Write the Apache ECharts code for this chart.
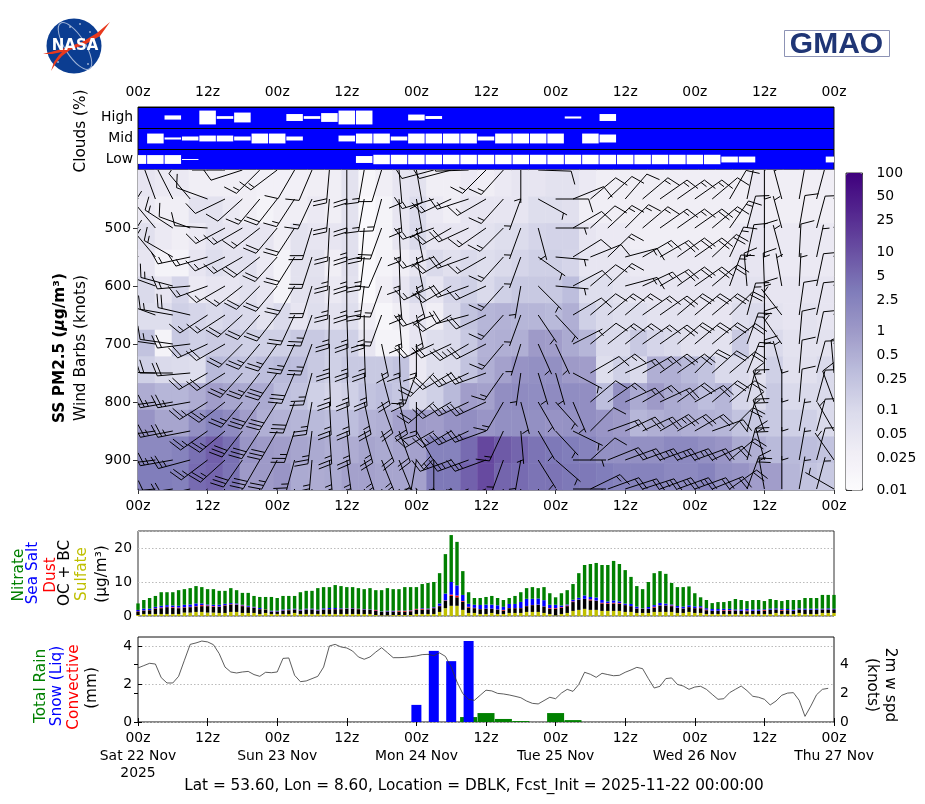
<!DOCTYPE html>
<html>
<head>
<meta charset="utf-8"/>
<title>SS PM2.5 forecast DBLK</title>
<script src="https://cdn.jsdelivr.net/npm/echarts@6/dist/echarts.min.js"></script>
<style>html,body{margin:0;padding:0;background:#fff}</style>
</head>
<body>
<div id="main" style="width:925px;height:804px;"></div>
<script type="text/javascript">
// clear-sky fraction of each cloud row, every 3 h (0 = all blue)
var cloudHigh = [0,0,.2,0,.66,.13,.47,0,0,.33,.13,.42,.66,.66,0,0,.28,.14,0,0,0,0,0,0,0,.1,0,.33,0,0,0,0,0,0,0,0,0,0,0,0,0];
var cloudMid  = [0,.47,.1,.19,.28,.28,.19,.47,.47,.19,0,0,.28,.47,.47,.19,.47,.47,.47,.47,.19,.47,.47,.47,.47,0,.47,.38,0,0,0,0,0,0,0,0,0,0,0,0,0];
var cloudLow  = [.42,.42,.42,.05,0,0,0,0,0,0,0,0,0,.33,.45,.45,.45,.45,.45,.45,.45,.45,.45,.45,.45,.45,.45,.45,.45,.45,.45,.45,.45,.45,.28,.28,0,0,0,0,.28];
var cloudRows = ['Low','Mid','High'];

// SS PM2.5 (ug/m3), 12 rows top to bottom, 41 columns
var pm25 = [
 [.05,.04,.04,.03,.03,.03,.03,.025,.025,.025,.03,.03,.06,.015,.03,.05,.06,.03,.03,.04,.03,.04,.05,.05,.06,.06,.04,.03,.03,.03,.03,.03,.03,.03,.03,.03,.04,.03,.03,.03,.03],
 [.04,.03,.03,.06,.06,.04,.03,.02,.03,.03,.04,.03,.06,.012,.02,.05,.09,.04,.03,.05,.05,.05,.05,.08,.08,.07,.03,.03,.03,.03,.03,.03,.03,.03,.03,.03,.04,.03,.03,.03,.03],
 [.07,.04,.03,.04,.06,.05,.05,.05,.03,.06,.05,.05,.07,.012,.02,.05,.1,.05,.05,.05,.06,.08,.09,.12,.13,.13,.05,.04,.04,.03,.03,.03,.03,.03,.03,.04,.05,.04,.04,.04,.04],
 [.05,.02,.02,.05,.08,.06,.07,.04,.02,.06,.06,.03,.07,.012,.02,.03,.05,.1,.07,.1,.08,.1,.12,.15,.15,.12,.05,.05,.05,.04,.04,.04,.04,.04,.04,.05,.05,.04,.04,.04,.04],
 [.1,.05,.12,.04,.05,.05,.07,.05,.02,.06,.07,.04,.06,.012,.03,.05,.1,.05,.12,.15,.1,.15,.2,.2,.2,.3,.08,.08,.06,.05,.05,.05,.05,.05,.05,.06,.06,.05,.05,.05,.05],
 [.08,.08,.15,.12,.1,.12,.1,.06,.1,.05,.08,.06,.08,.03,.015,.03,.05,.03,.1,.25,.4,.45,.4,.4,.35,.5,.15,.1,.08,.08,.06,.06,.06,.05,.05,.08,.1,.06,.05,.06,.05],
 [.25,.02,.2,.15,.18,.18,.15,.15,.15,.2,.2,.15,.15,.05,.02,.02,.05,.08,.1,.2,.45,.5,.5,1,.9,.6,.4,.1,.1,.2,.12,.1,.07,.07,.06,.2,.07,.1,.06,.06,.06],
 [.15,.1,.09,.08,.35,.3,.25,.3,.35,.3,.2,.15,.2,.2,.2,.25,.04,.08,.1,.25,.5,.8,1.3,1.5,1.5,1,.9,.08,.15,.1,.5,.5,.35,.25,.1,.1,.07,.15,.07,.07,.1],
 [.55,.4,.4,.55,.9,.7,.6,.6,.3,.25,.15,.12,.15,.25,.3,.22,.1,.15,.35,.9,.8,1.6,1.8,1.7,1.8,1.7,1.6,.3,1.5,.6,1,.6,.5,.3,.4,.12,.1,.2,.1,.1,.1],
 [1.3,.7,.7,1.5,2.5,1.8,.9,.5,.45,.4,.35,.3,.3,.45,.5,.8,1,.9,1.3,1.6,1.2,1.5,1.5,1.5,1.3,1.4,1.6,1.2,1,.4,.5,.6,.5,.45,.4,.25,.2,.2,.15,.15,.1],
 [2,2,2.5,4.5,7,4.5,1.2,1,.9,.7,.6,.5,.55,.7,.6,.7,.8,2.5,2.5,5,13,8,6,4,3.5,3,2.5,1.5,1.5,1.5,1.5,2,2,1.5,1.2,.6,.5,.35,.35,.3,.25],
 [3,3,2.7,5,6,4,1,1,1.2,.6,.55,.6,.8,.8,.7,.7,.8,3.5,3.5,6.5,12,6,5,4,4,3.5,3.5,3,2.5,2.5,2.5,2,2,2.5,1.5,1.3,.9,.9,.4,.25,.2]
];
var pm25Ticks = [100,50,25,10,5,2.5,1,.5,.25,.1,.05,.025,.01];
var pm25Minor = [90,80,70,60,40,30,20,9,8,7,6,4,3,2,.9,.8,.7,.6,.4,.3,.2,.09,.08,.07,.06,.04,.03,.02];

// wind barbs: pressure levels, direction (deg) and speed (knots) every 3 h
var levels = [400,450,500,550,600,650,700,750,800,850,900,950];
var windDir = [
 [340,340,330,320,300,270,252,225,233,210,203,185,180,190,197,175,170,255,255,268,225,222,180,92,60,50,45,45,45,45,45,45,40,35,30,20,0,0,10,15,15],
 [340,340,333,320,290,244,228,220,218,213,205,185,180,190,195,175,170,253,245,252,240,222,200,119,90,68,50,47,41,50,55,55,55,50,30,12,0,345,10,15,15],
 [340,320,303,290,274,242,240,232,220,213,197,183,180,185,200,177,168,250,240,245,235,225,200,165,90,60,48,47,45,50,55,55,55,50,35,15,0,345,10,15,15],
 [340,320,300,258,254,245,240,232,222,212,198,183,180,187,203,178,168,250,240,250,240,222,200,125,95,58,68,46,75,60,60,55,55,47,25,12,0,345,3,12,14],
 [300,290,285,265,250,240,232,225,220,210,197,183,180,187,200,175,165,245,240,250,245,222,190,135,95,62,50,47,75,65,60,55,55,50,20,355,358,350,3,12,14],
 [300,290,280,283,237,237,228,222,218,205,200,181,178,180,200,175,168,250,240,255,245,222,200,146,137,59,50,50,50,55,55,50,50,50,45,15,0,322,8,12,15],
 [275,278,278,263,245,240,225,220,215,205,200,180,178,178,168,178,180,245,245,240,243,220,197,156,155,63,51,52,52,55,55,50,50,50,52,20,0,325,5,12,15],
 [275,272,270,265,240,238,222,218,215,203,195,178,176,175,165,172,200,225,240,245,250,215,188,163,164,118,60,55,65,60,55,55,45,48,50,22,0,345,5,15,355],
 [262,262,260,260,238,232,220,215,212,200,190,177,175,168,160,165,180,230,240,245,245,210,165,150,138,157,50,55,65,60,65,55,60,50,50,15,340,0,5,15,340],
 [262,262,259,259,235,230,218,213,210,198,187,176,174,165,158,160,150,240,240,245,250,205,175,150,137,116,45,70,65,65,60,60,60,70,45,15,340,0,10,15,330],
 [265,263,260,255,233,228,215,210,208,195,185,175,172,162,158,158,190,180,250,250,250,200,190,148,131,90,48,68,70,70,70,70,70,65,50,15,345,0,10,15,325],
 [270,265,262,258,232,225,215,210,205,195,185,173,170,160,155,155,180,180,250,250,250,200,190,150,130,90,64,70,72,72,70,70,70,68,55,20,350,0,10,15,300]
];
var windSpd = [
 [10,10,10,10,10,10,10,15,15,10,10,20,20,15,10,10,10,10,10,10,15,15,5,10,5,5,10,10,10,10,10,10,10,10,10,10,5,5,10,10,10],
 [10,10,10,10,10,10,10,15,20,15,15,20,20,15,15,15,15,15,15,15,15,15,5,5,10,10,10,10,10,15,15,15,15,10,10,10,5,5,10,10,10],
 [10,10,15,10,10,15,15,15,20,20,20,20,25,20,20,15,15,15,20,20,15,15,5,5,5,10,10,15,15,15,15,15,20,15,15,10,5,5,10,10,10],
 [15,15,15,15,15,15,15,20,20,20,20,25,25,25,10,15,15,15,20,20,15,15,5,5,5,10,10,15,15,15,20,20,20,20,15,10,10,5,10,5,10],
 [15,15,15,15,15,15,15,20,20,20,20,25,25,25,15,15,15,15,20,20,15,15,5,5,5,10,10,15,15,15,20,20,20,20,15,15,15,5,5,10,10],
 [15,15,15,20,15,15,20,20,20,20,25,25,25,25,15,15,15,20,20,20,20,15,5,5,5,10,10,15,15,15,20,20,20,20,20,15,15,5,10,10,10],
 [15,15,15,20,20,20,20,25,25,25,25,25,25,25,15,15,15,20,20,25,20,15,5,5,5,5,10,15,15,15,20,20,20,20,20,15,15,5,10,10,10],
 [20,20,20,20,20,20,25,25,30,30,25,25,25,25,20,15,15,20,20,25,25,15,5,5,5,5,10,15,15,15,20,20,20,20,20,15,15,5,10,10,10],
 [20,20,25,25,25,25,25,30,30,30,25,25,25,25,20,20,15,20,20,25,25,15,5,5,5,5,10,15,15,15,20,20,20,20,20,15,15,5,10,10,10],
 [25,25,25,25,25,25,30,30,30,25,25,25,25,25,20,20,20,20,25,25,25,15,5,5,5,5,10,15,20,20,25,20,20,20,20,20,15,5,5,10,5],
 [25,25,25,25,25,25,30,30,25,25,25,25,25,25,25,20,15,5,25,25,25,15,5,5,5,5,10,20,20,25,25,25,20,20,20,20,15,5,5,10,5],
 [20,20,20,20,20,20,25,25,25,20,20,20,20,20,20,20,15,5,20,20,20,15,5,5,5,5,15,20,20,25,25,25,20,20,20,20,15,5,5,5,5]
];

// aerosol stack (ug/m3), hourly
var sulfate = [.3,.6,.6,.6,.6,.6,.6,.6,1,1, 1.2,1.2,1,1,.9,.9,1.2,1.2,.9,.9, .9,.6,.9,.6,.6,.6,.6,.9,.6,.6, .6,.6,.6,.6,.6,.6,.6,.6,.6,.6, .6,.3,.2,.2,.3,.3,.3,.3,.6,.6, .6,.6,1.2,2.3,3,3,1.8,.9,.9,.6, .6,.9,.6,.6,.9,.9,.9,1.2,1.2,1.2, .9,.6,.2,.6,.9,1.5,1.8,2.1,1.8,1.8, 1.5,1.5,1.5,1.5,1.2,1.2,.9,.9,.9,1.2, 1.2,1.2,1.2,.9,.9,1.2,.9,.9,.6,.6, .6,.6,.6,.6,.6,.6,.6,.6,.6,.6, .9,.6,.6,.6,.9,.6,.6,.6,.9,.9,.9];
var ocBc = [1,1,1.1,1.6,1.7,2,1.8,1.7,1.5,1.6, 1.6,1.7,1.9,1.7,1.8,2.2,2.2,2.1,2,1.7, 1.5,1.4,1,.7,.7,1,1.1,1,1,1.3, 1.3,1,1.3,1.4,1.4,1.4,1.5,1.6,1.4,1.3, 1.2,1.2,1,1.1,1,1,1,1.1,1.2,1.3, 1.3,1.7,1.7,2.2,2.9,2.5,2.4,1.6,1.4,1.4, 1.5,1.2,1.3,1,1.4,1.4,1.4,1.7,2,2.1, 1.9,1.5,1.9,1.8,2,2.6,3,2.9,2.8,2.7, 2.2,2.1,2.2,2.1,2,1.7,1.3,1.2,1.2,1.3, 1.9,1.9,1.7,1.5,1.3,1.4,1.4,1.4,1.1,.9, .9,.9,.9,1,.9,.8,.9,.9,1,1.2, 1,1,1.1,.9,1,1.2,1.2,1.2,1,1,1];
var dust = [.1,.05,.05,.1,.2,.1,.2,.2,.1,.1, .1,.3,.2,.2,.1,.1,.1,.1,.2,.1, .1,.05,.05,.05,.05,.05,.05,.05,.05,.05, .05,.05,.05,.05,.05,.05,.05,.05,.05,.05, .05,.2,.05,.05,.05,.2,.2,.2,.2,.2, .1,.1,.1,.1,.4,.5,.2,.2,.1,.05, .05,.05,.05,.2,.05,.05,.05,.05,.05,.05, .05,.2,.2,.2,.2,.2,.05,.05,.3,.05, .2,.2,.2,.2,.05,.05,.05,.05,.05,.2, .05,.05,.2,.05,.05,.05,.05,.2,.2,.05, .05,.2,.2,.05,.05,.2,.05,.05,.2,.05, .05,.2,.05,.05,.05,.05,.05,.05,.05,.05,.05];
var seaSalt = [.4,.5,.4,.4,.5,.5,.5,.5,.7,.7, .8,.5,.3,.4,.5,.4,.3,.3,.2,.3, .2,.3,0,.2,.2,.25,.2,.2,.2,.2, .2,.2,.3,.3,.3,.2,.1,.1,.1,.1, .1,.1,.1,.2,.2,.1,.1,.1,.1,.2, .2,.2,.7,2,3.7,3,1.8,.9,.9,1.2, 1.2,1.2,1.2,.9,1.2,1.2,1.8,2.1,1.8,1.8, 1.8,1,1,.5,.3,.5,.5,1,.7,.9, .8,.5,.7,.5,.4,.6,.5,.1,.5,.5, .7,.5,.3,.5,.5,.5,.5,.4,.4,.5, .5,.4,.4,.3,.4,.5,.4,.4,.2,.3, .3,.3,.3,.3,.3,.3,.3,.3,.2,.3,.2];
var nitrate = [1.9,2.55,3.15,3.2,4,3.8,3.9,4.6,4.6,4.8, 5.1,4.8,4.5,4.6,4.1,3.8,4.4,3.9,3.5,3.8, 3.2,3.25,3.65,4.05,3.75,4,3.95,3.75,5.15,5.25, 5.25,6.35,6.25,6.15,6.75,6.55,6.25,6.15,6.05,5.85, 6.25,5.8,6.25,6.65,6.35,6.3,6.9,6.8,6.4,7.1, 7.5,7.4,8.9,11.6,13.8,12.8,7,3.4,2,2.05, 2.25,2.55,2.15,2,1.75,2.35,2.85,3.15,3.45,3.05, 3.85,3.4,2.2,3.6,4.2,4.6,7.25,8.95,9.7,10.15, 10.3,10.7,11.6,11,9.85,7.95,6.05,5.65,7.35,9.4, 9.35,8.75,6.3,5.55,5.75,5.55,3.85,2.6,2.4,1.75, 2.05,2,2.3,3.05,2.75,2.3,2.75,2.75,2.4,2.85, 2.45,2.3,2.65,2.85,2.45,3.15,3.15,3.15,4.05,3.95,4.05];

// precipitation (mm), every 3 h
var totalRain = [0,0,0,0,0,0,0,0,0,0,0,0,0,0,0,0,0,0,0,.26,.47,.16,.05,0,.47,.1,0,0,0,0,0,0,0,0,0,0,0,0,0,0,0];
var snowLiq   = [0,0,0,0,0,0,0,0,0,0,0,0,0,0,0,0,.9,3.74,3.2,4.26,0,0,0,0,0,0,0,0,0,0,0,0,0,0,0,0,0,0,0,0,0];
// 2 m wind speed (knots), hourly up to 119 h
var wind2m = [3.74,3.9,4.06,4.01,3.07,2.7,2.7,3.16,4.27,5.37,5.47,5.6,5.54,5.35,4.73,3.8,3.46,3.39,3.46,3.5,3.28,3.16,3.44,3.41,3.46,4.4,4.43,3.23,2.79,2.84,3,3.16,3.8,5.26,5.37,5.19,5.12,4.91,4.5,4.34,4.5,4.84,5.14,4.8,4.45,4.45,4.47,4.52,4.57,4.66,4.68,4.59,4.78,4.54,3.8,2.77,1.96,1.57,1.5,1.85,2.2,2.15,1.98,1.94,1.87,1.78,1.68,1.45,1.29,1.25,1.48,1.71,1.61,2,2.26,2.12,2.6,3.44,3.3,3.09,3.37,3.28,3.2,3.23,3.44,3.6,3.78,3.69,3,2.35,2.47,3,3.05,2.6,2.49,2.26,2.42,2.47,2.26,1.91,1.57,1.61,2.03,2.26,2.49,2.17,1.78,1.71,1.57,1.18,1.45,1.85,2,2.03,1.5,.39,1.1,1.89,2.26,2.33];

var dayLabels = {0:'Sat 22 Nov\n2025',24:'Sun 23 Nov',48:'Mon 24 Nov',72:'Tue 25 Nov',96:'Wed 26 Nov',120:'Thu 27 Nov'};
var titleText = 'Lat = 53.60, Lon = 8.60, Location = DBLK, Fcst_Init = 2025-11-22 00:00:00';

var FONT = 'DejaVu Sans';
var TICK = 13.9;
var HOURS_PER_COL = 3;
var BARB_LEN = 33;
var LABEL_NUDGE = [2,0,0,0];

function hourLabel(v){ return v % 24 === 0 ? '00z' : '12z'; }
function every3h(list){ return list.map(function(v,i){ return [i*HOURS_PER_COL, v]; }); }
function hourly(list){ return list.map(function(v,i){ return [i, v]; }); }

var hourCats = nitrate.map(function(v,i){ return i; });
var heatData = [];
pm25.forEach(function(row,r){
    row.forEach(function(v,c){ heatData.push([c, r, Math.log10(v)]); });
});
var barbData = [];
levels.forEach(function(p,r){
    windDir[r].forEach(function(d,c){ barbData.push([c*HOURS_PER_COL, p, d, windSpd[r][c]]); });
});
var cloudData = [];
[cloudLow,cloudMid,cloudHigh].forEach(function(list,r){
    list.forEach(function(v,c){ if(v>0) cloudData.push([c*HOURS_PER_COL, r, v]); });
});

function renderCloud(params, api){
    var p = api.coord([api.value(0), api.value(1)]);
    var band = api.size([0,1])[1];
    var w = api.size([2.85,0])[0];
    var h = band * api.value(2);
    return {type:'rect', shape:{x:p[0]-w/2, y:p[1]-h/2, width:w, height:h}, style:{fill:'#fff'}};
}

function renderBarb(params, api){
    var base = api.coord([api.value(0), api.value(1)]);
    var a = api.value(2) * Math.PI / 180;
    var spd = Math.round(api.value(3)/5)*5;
    // unit vector along the staff and to its right, screen coordinates
    var ux = Math.sin(a), uy = -Math.cos(a);
    var rx = -uy, ry = ux;
    var L = BARB_LEN, gap = L*0.125;
    var tip = [base[0]+ux*L, base[1]+uy*L];
    var lines = [[base,tip]];
    var full = Math.floor(spd/10), half = (spd%10)>=5 ? 1 : 0;
    var off = 0;
    if(full === 0 && half) off = gap;
    function feather(o, scale){
        var sx = tip[0]-ux*o, sy = tip[1]-uy*o;
        var hgt = 0.4*L*scale, fw = 0.125*L*scale;
        lines.push([[sx,sy],[sx+rx*hgt+ux*fw, sy+ry*hgt+uy*fw]]);
    }
    for(var i=0;i<full;i++){ feather(off,1); off += gap; }
    if(half) feather(off,0.5);
    return {
        type:'group',
        children: lines.map(function(l){
            return {type:'line', shape:{x1:l[0][0],y1:l[0][1],x2:l[1][0],y2:l[1][1]},
                style:{stroke:'#000',lineWidth:1}};
        })
    };
}

function vtext(text,x,y,color,rot){
    return {type:'text', x:x, y:y, rotation:rot===undefined?Math.PI/2:rot, z:20,
        style:{text:text, fill:color, align:'center', verticalAlign:'middle',
            font:'15.3px "'+FONT+'"'}};
}

var graphics = [
    vtext('Clouds (%)',81,131,'#000'),
    {type:'text', x:60, y:348, rotation:Math.PI/2, z:20, style:{
        text:'{b|SS PM2.5 (}{i|μ}{b|g/m³)}', align:'center', verticalAlign:'middle', fill:'#000',
        rich:{b:{font:'bold 15.3px "'+FONT+'"',fill:'#000'}, i:{font:'bold italic 15.3px "'+FONT+'"',fill:'#000'}}
    }},
    vtext('Wind Barbs (knots)',81,348,'#000'),
    vtext('Nitrate',19,575,'#008000'),
    vtext('Sea Salt',33,573,'#0000ff'),
    vtext('Dust',51,575,'#ff0000'),
    vtext('OC + BC',65,573,'#000'),
    vtext('Sulfate',82,574,'#bfbf00'),
    vtext('(μg/m³)',102,574,'#000'),
    vtext('Total Rain',41,686,'#008000'),
    vtext('Snow (Liq)',57,686,'#0000ff'),
    vtext('Convective',74,687,'#ff0000'),
    vtext('(mm)',92,688,'#000'),
    vtext('2m w spd',890,685,'#000',-Math.PI/2),
    vtext('(knots)',872,685,'#000',-Math.PI/2),
    {type:'text', x:474, y:786, z:20, style:{text:titleText, fill:'#000', align:'center', verticalAlign:'middle', font:'15.3px "'+FONT+'"'}},
    // GMAO logo
    {type:'rect', shape:{x:784.5,y:30.5,width:105,height:26}, style:{fill:'#fff',stroke:'#8d93b5',lineWidth:1}},
    {type:'text', x:836.5, y:44.5, z:5, style:{text:'GMAO', fill:'#1f3575', align:'center', verticalAlign:'middle', font:'bold 30px "Liberation Sans"'}},
    // NASA logo
    {type:'circle', shape:{cx:74,cy:46,r:27.5}, style:{fill:'#0b3d91'}},
    {type:'ellipse', shape:{cx:75,cy:46,rx:27,ry:10}, rotation:-Math.PI*0.32, originX:75, originY:46, style:{fill:'none',stroke:'#9fb3d6',lineWidth:1}},
    {type:'circle', shape:{cx:70,cy:27,r:.8}, style:{fill:'#fff'}},
    {type:'circle', shape:{cx:80,cy:24,r:.8}, style:{fill:'#fff'}},
    {type:'circle', shape:{cx:90,cy:32,r:.8}, style:{fill:'#fff'}},
    {type:'circle', shape:{cx:58,cy:62,r:.8}, style:{fill:'#fff'}},
    {type:'circle', shape:{cx:88,cy:64,r:.8}, style:{fill:'#fff'}},
    {type:'polygon', z:6, shape:{points:[[43,54],[62,49],[82,42],[97,33],[110,22],[100,36],[86,44],[70,50],[62,56],[56,63],[51,71],[54,62],[59,55],[62,52],[52,54]]}, style:{fill:'#e8391d'}},
    {type:'text', x:75, y:46, z:7, style:{text:'NASA', fill:'#fff', align:'center', verticalAlign:'middle', font:'bold 15px "DejaVu Sans"'}}
];

var option = {
    animation:false,
    backgroundColor:'#fff',
    textStyle:{fontFamily:FONT,color:'#000'},
    graphic:graphics,
    visualMap:{
        type:'continuous', min:-2, max:2, dimension:2, seriesIndex:1,
        left:846, top:173, itemWidth:16.5, itemHeight:317, padding:0,
        text:null, calculable:false, hoverLink:false, silent:true,
        inRange:{color:['#fcfbfd','#efedf5','#dadaeb','#bcbddc','#9e9ac8','#807dba','#6a51a3','#54278f','#3f007d']}
    },
    grid:[
        {left:138,top:107,width:696,height:63,show:true,backgroundColor:'#0000ff',borderColor:'#111',borderWidth:1},
        {left:138,top:170,width:696,height:320,show:true,backgroundColor:'transparent',borderColor:'#333',borderWidth:1},
        {left:846,top:173,width:16.5,height:317,show:true,backgroundColor:'transparent',borderColor:'#333',borderWidth:1},
        {left:138,top:531,width:696,height:85,show:true,borderColor:'#333',borderWidth:1},
        {left:138,top:637,width:696,height:85,show:true,borderColor:'#111',borderWidth:1},
        {left:846,top:173,width:16.5,height:317,show:false}
    ],
    xAxis:[
        {gridIndex:0,type:'value',min:0,max:120,interval:12,position:'top',splitLine:{show:false},axisLine:{show:false},axisTick:{show:false},
            axisLabel:{margin:8,fontSize:TICK,color:'#000',formatter:hourLabel,showMinLabel:true,showMaxLabel:true}},
        {gridIndex:1,type:'value',min:0,max:120,interval:12,splitLine:{show:false},axisLine:{show:false},axisTick:{length:4,lineStyle:{color:'#333'}},
            axisLabel:{margin:9,fontSize:TICK,color:'#000',formatter:hourLabel,showMinLabel:true,showMaxLabel:true}},
        {gridIndex:1,type:'category',show:false,data:pm25[0].map(function(v,i){return i;})},
        {gridIndex:2,type:'value',show:false,min:0,max:1},
        {gridIndex:3,type:'category',data:hourCats,boundaryGap:false,axisLabel:{show:false},axisTick:{show:false},axisLine:{show:false},splitLine:{show:false}},
        {gridIndex:4,type:'value',min:0,max:120,interval:12,splitLine:{show:false},axisLine:{show:false},
            axisTick:{inside:true,length:4,lineStyle:{color:'#000'}},
            axisLabel:{margin:8,fontSize:TICK,lineHeight:17.5,color:'#000',showMinLabel:true,showMaxLabel:true,
                formatter:function(v){ return dayLabels[v]!==undefined ? hourLabel(v)+'\n'+dayLabels[v] : hourLabel(v); }}},
        {gridIndex:4,type:'value',min:0,max:120,interval:12,position:'top',splitLine:{show:false},axisLine:{show:false},
            axisTick:{inside:true,length:4,lineStyle:{color:'#000'}},axisLabel:{show:false}},
        {gridIndex:5,type:'value',show:false,min:0,max:1}
    ],
    yAxis:[
        {gridIndex:0,type:'category',data:cloudRows,axisLine:{show:false},axisTick:{show:false},
            splitLine:{show:true,lineStyle:{color:'#000',width:1}},
            axisLabel:{margin:5,fontSize:TICK,color:'#000',padding:LABEL_NUDGE}},
        {gridIndex:1,type:'value',inverse:true,min:400,max:951.7,interval:100,splitLine:{show:false},axisLine:{show:false},
            axisTick:{length:5,customValues:[500,600,700,800,900],lineStyle:{color:'#333'}},
            axisLabel:{margin:7,fontSize:TICK,color:'#000',padding:LABEL_NUDGE,customValues:[500,600,700,800,900]}},
        {gridIndex:1,type:'category',show:false,inverse:true,data:levels},
        {gridIndex:2,type:'value',min:-2,max:2,position:'right',splitLine:{show:false},axisLine:{show:false},
            axisTick:{length:6,customValues:pm25Ticks.map(Math.log10),lineStyle:{color:'#333'}},
            axisLabel:{margin:14,fontSize:TICK,color:'#000',padding:LABEL_NUDGE,customValues:pm25Ticks.map(Math.log10),
                formatter:function(v){ return String(pm25Ticks.reduce(function(a,b){ return Math.abs(Math.log10(b)-v)<Math.abs(Math.log10(a)-v)?b:a; })); }}},
        {gridIndex:5,type:'value',min:-2,max:2,position:'right',splitLine:{show:false},axisLine:{show:false},
            axisTick:{length:3,customValues:pm25Minor.map(Math.log10),lineStyle:{color:'#333'}},axisLabel:{show:false}},
        {gridIndex:3,type:'value',min:0,max:25,interval:10,axisLine:{show:false},axisTick:{show:false},
            splitLine:{show:true,lineStyle:{color:'#bbb',type:[1.5,2],width:1}},
            axisLabel:{margin:6,fontSize:TICK,color:'#000',padding:LABEL_NUDGE,customValues:[0,10,20]}},
        {gridIndex:4,type:'value',min:0,max:4.47,interval:2,axisLine:{show:false},
            axisTick:{inside:true,length:4,customValues:[0,2,4],lineStyle:{color:'#000'}},
            splitLine:{show:true,lineStyle:{color:'#bbb',type:[1.5,2],width:1}},
            axisLabel:{margin:6,fontSize:TICK,color:'#000',padding:LABEL_NUDGE,customValues:[0,2,4]}},
        {gridIndex:4,type:'value',min:0,max:5.88,interval:2,position:'right',axisLine:{show:false},splitLine:{show:false},
            axisTick:{inside:true,length:4,customValues:[0,2,4],lineStyle:{color:'#000'}},
            axisLabel:{margin:6,fontSize:TICK,color:'#000',padding:LABEL_NUDGE,customValues:[0,2,4]}}
    ],
    series:[
        {type:'custom',xAxisIndex:0,yAxisIndex:0,data:cloudData,encode:{x:0,y:1},renderItem:renderCloud,clip:true,silent:true},
        {type:'heatmap',xAxisIndex:2,yAxisIndex:2,data:heatData,silent:true,z:1,itemStyle:{borderWidth:0},progressive:0},
        {type:'custom',xAxisIndex:1,yAxisIndex:1,data:barbData,encode:{x:0,y:1},renderItem:renderBarb,clip:true,silent:true,z:5,progressive:0},
        {type:'bar',name:'Sulfate',xAxisIndex:4,yAxisIndex:5,stack:'pm',barWidth:3.4,itemStyle:{color:'#bfbf00'},data:sulfate,silent:true},
        {type:'bar',name:'OC + BC',xAxisIndex:4,yAxisIndex:5,stack:'pm',barWidth:3.4,itemStyle:{color:'#000'},data:ocBc,silent:true},
        {type:'bar',name:'Dust',xAxisIndex:4,yAxisIndex:5,stack:'pm',barWidth:3.4,itemStyle:{color:'#ff0000'},data:dust,silent:true},
        {type:'bar',name:'Sea Salt',xAxisIndex:4,yAxisIndex:5,stack:'pm',barWidth:3.4,itemStyle:{color:'#0000ff'},data:seaSalt,silent:true},
        {type:'bar',name:'Nitrate',xAxisIndex:4,yAxisIndex:5,stack:'pm',barWidth:3.4,itemStyle:{color:'#008000'},data:nitrate,silent:true},
        {type:'bar',name:'Total Rain',xAxisIndex:5,yAxisIndex:6,barWidth:17,itemStyle:{color:'#008000'},data:every3h(totalRain),silent:true,z:2},
        {type:'bar',name:'Snow (Liq)',xAxisIndex:6,yAxisIndex:6,barWidth:10,itemStyle:{color:'#0000ff'},data:every3h(snowLiq),silent:true,z:3},
        {type:'line',name:'2m w spd',xAxisIndex:5,yAxisIndex:7,data:hourly(wind2m),symbol:'none',silent:true,z:4,
            lineStyle:{color:'#333',width:.8}}
    ]
};

var chart = echarts.init(document.getElementById('main'),null,{renderer:'canvas'});
chart.setOption(option);
</script>
</body>
</html>
